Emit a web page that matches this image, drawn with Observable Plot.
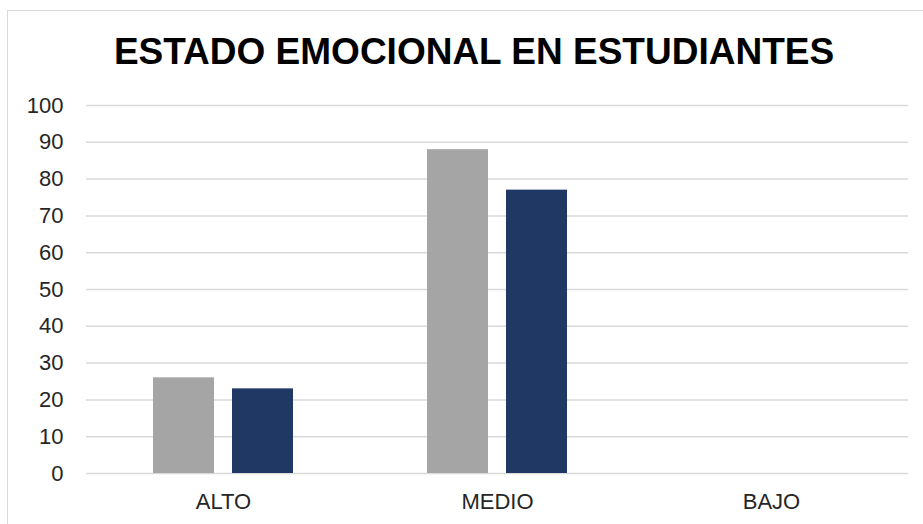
<!DOCTYPE html>
<html>
<head>
<meta charset="utf-8">
<script src="https://cdn.jsdelivr.net/npm/d3@7"></script>
<script src="https://cdn.jsdelivr.net/npm/@observablehq/plot@0.6"></script>
<style>
  html, body { margin: 0; padding: 0; background: #fff; }
  body { width: 923px; height: 524px; position: relative; overflow: hidden; font-family: "Liberation Sans", Arial, sans-serif; }
  #frame { position: absolute; left: 7px; top: 10px; width: 940px; height: 540px; border-left: 1px solid #d9d9d9; border-top: 1px solid #d9d9d9; box-sizing: border-box; }
  #title { position: relative; height: 90px; margin: 0; font-weight: bold; font-size: 37px; color: #000; text-align: center; line-height: 1; padding-top: 33px; box-sizing: border-box; padding-left: 25px; white-space: nowrap; }
  #chart { position: relative; }
</style>
</head>
<body>
<div id="frame"></div>
<div id="title">ESTADO EMOCIONAL EN ESTUDIANTES</div>
<div id="chart"></div>
<script>
const categorias = ["ALTO", "MEDIO", "BAJO"];
const series = ["Serie 1", "Serie 2"];
const serie1 = [26, 88, 0];
const serie2 = [23, 77, 0];
const yTicks = [0, 10, 20, 30, 40, 50, 60, 70, 80, 90, 100];
const colores = ["#a5a5a5", "#203864"];

const data = [];
categorias.forEach((c, i) => {
  data.push({categoria: c, serie: series[0], valor: serie1[i]});
  data.push({categoria: c, serie: series[1], valor: serie2[i]});
});

const chart = Plot.plot({
  width: 923,
  height: 434,
  marginTop: 15,
  marginBottom: 51,
  marginLeft: 86,
  marginRight: 15,
  style: {fontFamily: "Liberation Sans, Arial, sans-serif", color: "#262626", background: "transparent"},
  fx: {domain: categorias, padding: 0, label: null},
  x: {domain: series, paddingInner: 0.228, paddingOuter: 0.848, axis: null},
  y: {domain: [0, 100], label: null},
  color: {domain: series, range: colores},
  marks: [
    Plot.gridY(yTicks, {stroke: "#d9d9d9", strokeOpacity: 1, strokeWidth: 1.5}),
    Plot.barY(data, {fx: "categoria", x: "serie", y: "valor", fill: "serie"}),
    Plot.axisY(yTicks, {tickSize: 0, tickPadding: 23, fontSize: 22, label: null}),
    Plot.axisFx({anchor: "bottom", tickSize: 0, tickPadding: 20, fontSize: 22, label: null})
  ]
});
document.getElementById("chart").appendChild(chart);
</script>
</body>
</html>
